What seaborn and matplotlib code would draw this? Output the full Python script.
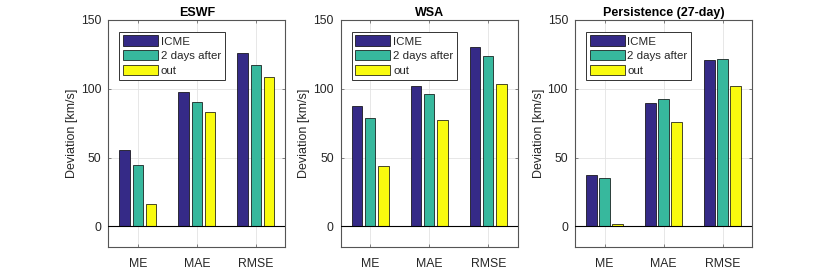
import pandas as pd
import matplotlib
matplotlib.use("Agg")
import matplotlib.pyplot as plt
import seaborn as sns

# values
metrics = ["ME", "MAE", "RMSE"]
series = ["ICME", "2 days after", "out"]
models = ["ESWF", "WSA", "Persistence (27-day)"]

eswf_icme = [55.8, 97.8, 125.7]
eswf_2days = [44.4, 90.5, 117.0]
eswf_out = [16.0, 83.0, 108.5]

wsa_icme = [87.4, 101.7, 130.3]
wsa_2days = [78.9, 95.9, 123.5]
wsa_out = [44.2, 77.2, 103.6]

pers_icme = [37.1, 89.6, 121.1]
pers_2days = [35.0, 92.7, 121.4]
pers_out = [1.5, 75.5, 101.9]

palette = ["#352a87", "#37b89d", "#f9fb0e"]

sns.set_theme(style="whitegrid")
plt.rcParams["font.family"] = ["Liberation Sans", "DejaVu Sans"]

panel_data = {
    "ESWF": [eswf_icme, eswf_2days, eswf_out],
    "WSA": [wsa_icme, wsa_2days, wsa_out],
    "Persistence (27-day)": [pers_icme, pers_2days, pers_out],
}

fig = plt.figure(figsize=(8.3, 2.77), dpi=100)
lefts = [0.1305, 0.4105, 0.6928]
frame = "#555555"
txt = "#262626"

for left, model in zip(lefts, models):
    ax = fig.add_axes([left, 0.1083, 0.2133, 0.8195])
    rows = []
    for s, vals in zip(series, panel_data[model]):
        for m, v in zip(metrics, vals):
            rows.append({"metric": m, "series": s, "value": v})
    df = pd.DataFrame(rows)

    sns.barplot(data=df, x="metric", y="value", hue="series", order=metrics,
                hue_order=series, palette=palette, width=0.667, gap=0.2,
                edgecolor="black", linewidth=0.5, saturation=1, ax=ax, zorder=3)

    ax.axhline(0, color="black", lw=0.8, zorder=4)
    ax.set_xlim(-0.5, 2.5)
    ax.set_ylim(-15, 150)
    ax.set_yticks([0, 50, 100, 150])
    ax.set_title(model, fontsize=9, fontweight="bold", color="black", pad=3)
    ax.set_xlabel("")
    ax.set_ylabel("Deviation [km/s]", fontsize=9, color=txt, labelpad=2)
    ax.tick_params(axis="both", labelsize=8.8, labelcolor=txt, direction="in",
                   length=2.5, width=0.5, color=frame, top=True, right=True,
                   bottom=True, left=True, pad=5)
    ax.tick_params(axis="x", pad=8)
    ax.grid(True, color="#e3e3e3", lw=0.6, zorder=0)
    ax.set_axisbelow(True)
    for sp in ax.spines.values():
        sp.set_visible(True)
        sp.set_color(frame)
        sp.set_linewidth(0.8)

    leg = ax.legend(loc="upper left", bbox_to_anchor=(0.062, 0.948),
                    borderaxespad=0, fontsize=8.25, frameon=True, fancybox=False,
                    edgecolor="#333333", framealpha=1, handlelength=3.05,
                    handleheight=1.0, handletextpad=0.25, labelspacing=0.32,
                    borderpad=0.32)
    leg.get_frame().set_linewidth(0.7)

plt.savefig("out.png", dpi=100)
